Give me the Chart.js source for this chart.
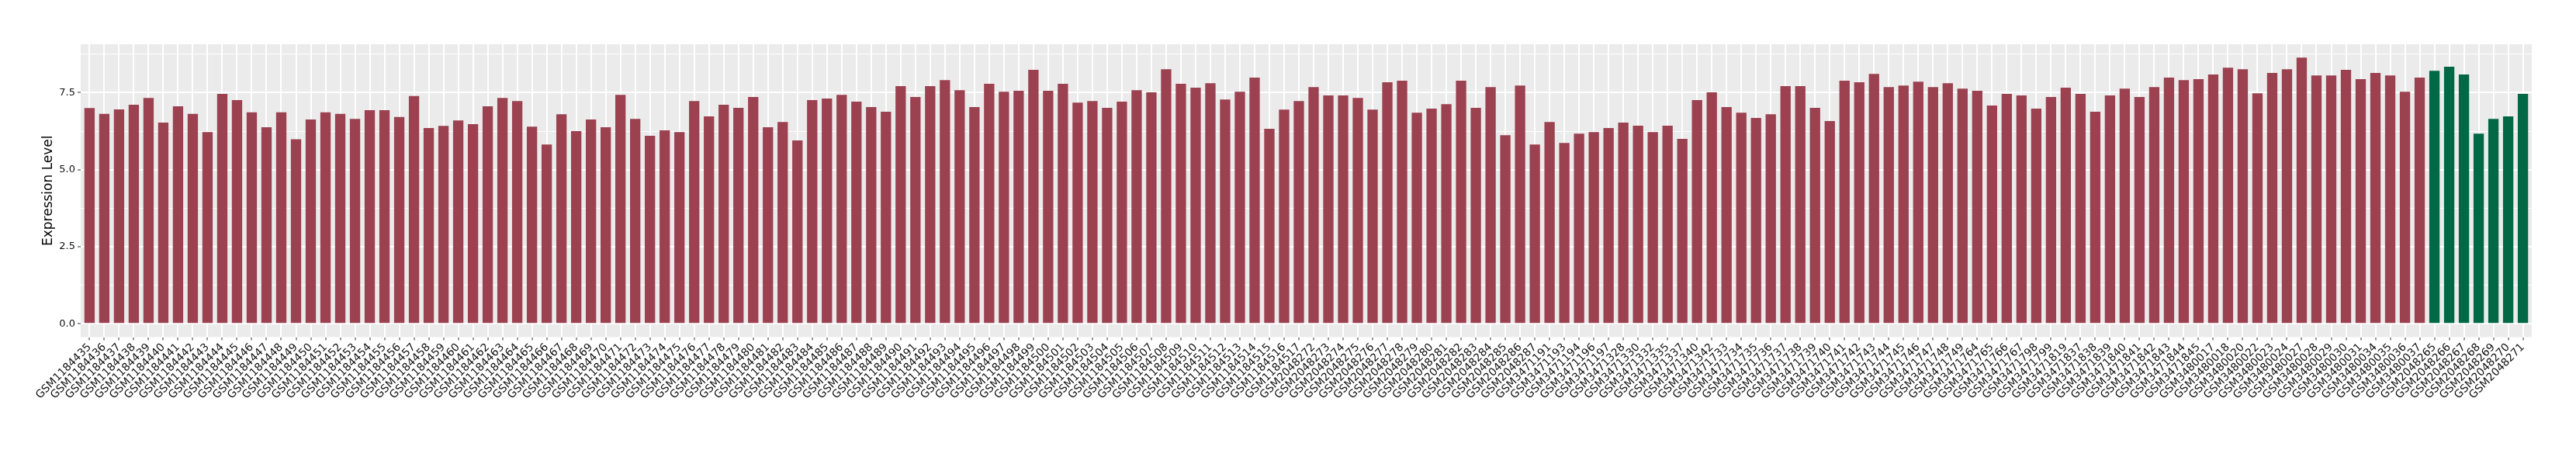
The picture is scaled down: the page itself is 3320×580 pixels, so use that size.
<!DOCTYPE html>
<html>
<head>
<meta charset="utf-8">
<script src="https://cdn.jsdelivr.net/npm/chart.js@4.4.1/dist/chart.umd.min.js"></script>
<style>
html,body{margin:0;padding:0;background:#ffffff;}
canvas{display:block;}
</style>
</head>
<body>
<canvas id="c" width="3320" height="580" style="width:3320px;height:580px;"></canvas>
<script>
const samples = [
"GSM1184435","GSM1184436","GSM1184437","GSM1184438","GSM1184439","GSM1184440","GSM1184441","GSM1184442","GSM1184443","GSM1184444",
"GSM1184445","GSM1184446","GSM1184447","GSM1184448","GSM1184449","GSM1184450","GSM1184451","GSM1184452","GSM1184453","GSM1184454",
"GSM1184455","GSM1184456","GSM1184457","GSM1184458","GSM1184459","GSM1184460","GSM1184461","GSM1184462","GSM1184463","GSM1184464",
"GSM1184465","GSM1184466","GSM1184467","GSM1184468","GSM1184469","GSM1184470","GSM1184471","GSM1184472","GSM1184473","GSM1184474",
"GSM1184475","GSM1184476","GSM1184477","GSM1184478","GSM1184479","GSM1184480","GSM1184481","GSM1184482","GSM1184483","GSM1184484",
"GSM1184485","GSM1184486","GSM1184487","GSM1184488","GSM1184489","GSM1184490","GSM1184491","GSM1184492","GSM1184493","GSM1184494",
"GSM1184495","GSM1184496","GSM1184497","GSM1184498","GSM1184499","GSM1184500","GSM1184501","GSM1184502","GSM1184503","GSM1184504",
"GSM1184505","GSM1184506","GSM1184507","GSM1184508","GSM1184509","GSM1184510","GSM1184511","GSM1184512","GSM1184513","GSM1184514",
"GSM1184515","GSM1184516","GSM1184517",
"GSM2048272","GSM2048273","GSM2048274","GSM2048275","GSM2048276","GSM2048277","GSM2048278","GSM2048279","GSM2048280","GSM2048281",
"GSM2048282","GSM2048283","GSM2048284","GSM2048285","GSM2048286","GSM2048287",
"GSM3471191","GSM3471193","GSM3471194","GSM3471196","GSM3471197","GSM3471328","GSM3471330","GSM3471332","GSM3471335","GSM3471337",
"GSM3471340","GSM3471342",
"GSM3471733","GSM3471734","GSM3471735","GSM3471736","GSM3471737","GSM3471738","GSM3471739","GSM3471740","GSM3471741","GSM3471742",
"GSM3471743","GSM3471744","GSM3471745","GSM3471746","GSM3471747","GSM3471748","GSM3471749",
"GSM3471764","GSM3471765","GSM3471766","GSM3471767","GSM3471798","GSM3471799","GSM3471819",
"GSM3471837","GSM3471838","GSM3471839","GSM3471840","GSM3471841","GSM3471842","GSM3471843","GSM3471844","GSM3471845",
"GSM3480017","GSM3480018","GSM3480020","GSM3480022","GSM3480023","GSM3480024","GSM3480027","GSM3480028","GSM3480029","GSM3480030",
"GSM3480031","GSM3480034","GSM3480035","GSM3480036","GSM3480037",
"GSM2048265","GSM2048266","GSM2048267","GSM2048268","GSM2048269","GSM2048270","GSM2048271"
];

const values = [
7.00,6.81,6.96,7.11,7.33,6.53,7.06,6.81,6.22,7.46,
7.26,6.86,6.38,6.86,5.99,6.63,6.86,6.81,6.65,6.93,
6.93,6.71,7.39,6.35,6.42,6.60,6.48,7.06,7.33,7.23,
6.40,5.82,6.80,6.25,6.63,6.38,7.43,6.65,6.10,6.28,
6.22,7.23,6.73,7.11,7.01,7.36,6.38,6.55,5.95,7.26,
7.31,7.43,7.21,7.03,6.88,7.71,7.36,7.71,7.91,7.58,
7.03,7.79,7.53,7.56,8.24,7.56,7.79,7.18,7.23,7.01,
7.21,7.58,7.51,8.26,7.79,7.66,7.81,7.28,7.53,7.99,
6.33,6.95,7.23,
7.68,7.41,7.41,7.33,6.95,7.84,7.89,6.85,6.98,7.13,
7.89,7.01,7.68,6.12,7.73,5.82,
6.55,5.87,6.17,6.22,6.35,6.53,6.43,6.22,6.43,6.00,
7.26,7.51,
7.03,6.85,6.68,6.80,7.71,7.71,7.01,6.58,7.89,7.84,
8.11,7.68,7.73,7.86,7.68,7.81,7.63,
7.56,7.08,7.46,7.41,6.98,7.36,7.66,
7.46,6.88,7.41,7.63,7.36,7.68,7.99,7.91,7.94,
8.09,8.31,8.26,7.48,8.14,8.26,8.64,8.06,8.06,8.24,
7.94,8.14,8.06,7.53,7.99,
8.21,8.34,8.09,6.17,6.65,6.73,7.46
];

// group of each sample: first 159 in group A, last 7 in group B
const groupA = samples.slice(0, 159);
const groupB = samples.slice(159);
const groupColors = { A: "#9B4150", B: "#006845" };

const yTickValues = [0, 1.25, 2.5, 3.75, 5, 6.25, 7.5, 8.75];
const yMajorTicks = [0, 2.5, 5, 7.5];
const yMin = -0.432, yMax = 9.072;

const barColors = samples.map(s => groupB.includes(s) ? groupColors.B : groupColors.A);

const panelBg = {
  id: 'panelBg',
  beforeDraw(chart) {
    const {ctx, chartArea: a} = chart;
    ctx.save();
    ctx.fillStyle = '#ffffff';
    ctx.fillRect(0, 0, chart.width, chart.height);
    ctx.fillStyle = '#EBEBEB';
    ctx.fillRect(a.left, a.top, a.right - a.left, a.bottom - a.top);
    ctx.restore();
  }
};

const isMajor = v => yMajorTicks.some(m => Math.abs(m - v) < 1e-9);

new Chart(document.getElementById('c'), {
  type: 'bar',
  data: {
    labels: samples,
    datasets: [{
      data: values,
      backgroundColor: barColors,
      borderWidth: 0,
      categoryPercentage: 1.0,
      barPercentage: 0.7
    }]
  },
  options: {
    responsive: false,
    animation: false,
    devicePixelRatio: 1,
    layout: { padding: { top: 57, right: 57, left: 0, bottom: 0 } },
    plugins: { legend: { display: false }, tooltip: { enabled: false } },
    scales: {
      x: {
        type: 'category',
        offset: false,
        afterBuildTicks(s) {
          s._startValue = -0.6;
          s._valueRange = s.ticks.length - 1 + 1.2;
        },
        afterFit(s) { s.height = 580 - 434.5; },
        border: { display: false },
        grid: {
          offset: false,
          color: '#ffffff',
          lineWidth: 2,
          drawTicks: true,
          tickLength: 4,
          tickColor: '#333333',
          tickWidth: 1
        },
        ticks: {
          autoSkip: false,
          maxRotation: 45,
          minRotation: 45,
          padding: 1,
          color: '#111111',
          font: { family: 'DejaVu Sans', size: 14 }
        }
      },
      y: {
        min: yMin,
        max: yMax,
        afterBuildTicks(s) { s.ticks = yTickValues.map(v => ({ value: v })); },
        afterFit(s) { s.width = 104; },
        border: { display: false },
        grid: {
          color: '#ffffff',
          lineWidth: c => isMajor(c.tick.value) ? 2 : 1,
          drawTicks: true,
          tickLength: 4,
          tickColor: c => isMajor(c.tick.value) ? '#333333' : 'rgba(0,0,0,0)',
          tickWidth: 1
        },
        ticks: {
          padding: 3,
          color: '#111111',
          font: { family: 'DejaVu Sans', size: 13 },
          callback: v => isMajor(v) ? v.toFixed(1) : ''
        },
        title: {
          display: true,
          text: 'Expression Level',
          color: '#000000',
          font: { family: 'DejaVu Sans', size: 17 },
          padding: { top: 52, bottom: 0 }
        }
      }
    }
  },
  plugins: [panelBg]
});
</script>
</body>
</html>
